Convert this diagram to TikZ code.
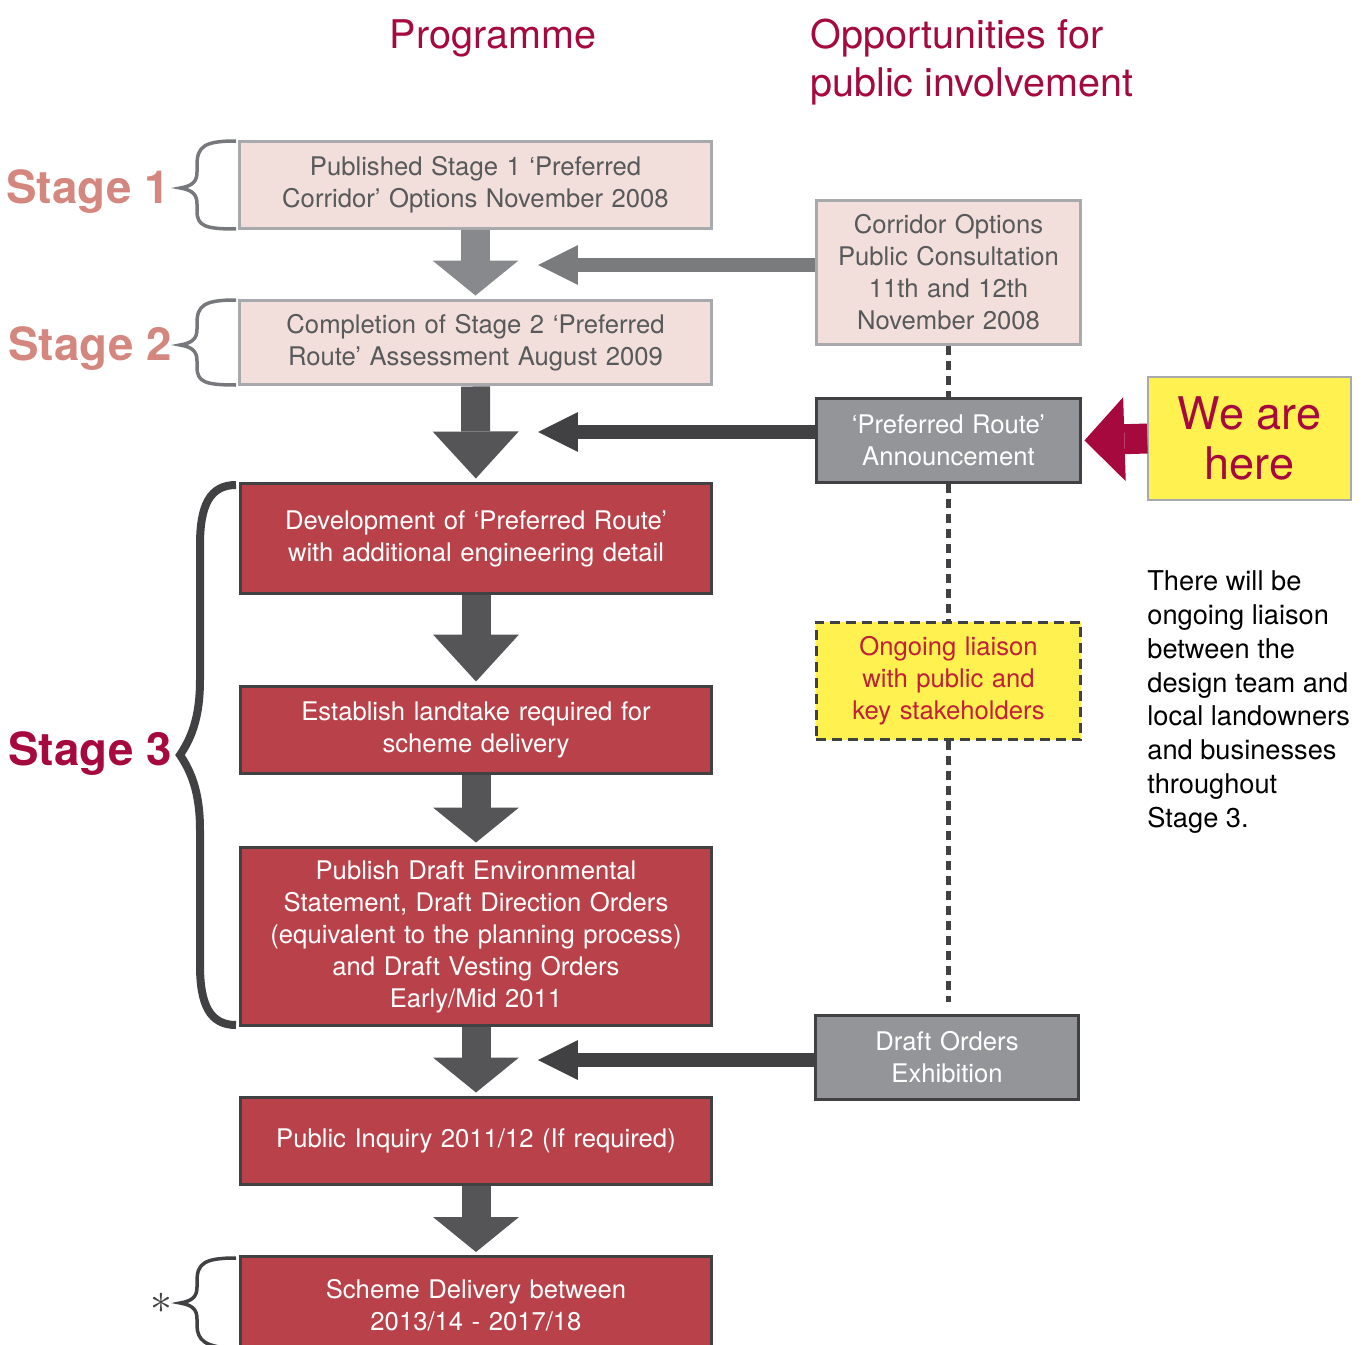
\documentclass[tikz,border=0pt]{standalone}
\usepackage{fontspec}
\setmainfont{TeX Gyre Heros}
\usepackage{tikz}
\usetikzlibrary{positioning,arrows.meta}

\definecolor{titlered}{HTML}{A6093D}
\definecolor{stagepink}{HTML}{D4877F}
\definecolor{pinkfill}{HTML}{F2DFDB}
\definecolor{pinkline}{HTML}{A7A9AC}
\definecolor{textgrey}{HTML}{58595B}
\definecolor{boxred}{HTML}{B9424A}
\definecolor{darkline}{HTML}{414042}
\definecolor{boxgrey}{HTML}{939598}
\definecolor{notice}{HTML}{FFF250}
\definecolor{liaisered}{HTML}{C1203A}
\definecolor{arrowlight}{HTML}{88898C}
\definecolor{arrowside}{HTML}{7A7B7D}
\definecolor{arrowdark}{HTML}{555557}
\definecolor{bracegrey}{HTML}{77787B}

\begin{document}
\begin{tikzpicture}[
    x=0.02cm, y=-0.02cm,
    every node/.style={inner sep=0pt},
    boxfont/.style={font=\fontsize{14.6}{18.2}\selectfont},
    prog/.style={boxfont, align=center, minimum width=9.44cm, text width=9.2cm, line width=0.06cm},
    opp/.style={boxfont, align=center, minimum width=5.3cm, text width=5.1cm, line width=0.06cm},
    pinkbox/.style={draw=pinkline, fill=pinkfill, text=textgrey},
    redbox/.style={draw=darkline, fill=boxred, text=white},
    greybox/.style={draw=darkline, fill=boxgrey, text=white},
    heading/.style={font=\fontsize{22.5}{27.3}\selectfont, text=titlered, yshift=-0.06cm},
    stage/.style={font=\fontsize{26}{30}\selectfont\bfseries, anchor=east, yshift=-0.08cm},
    downarrow/.style={line width=0.58cm, -{Triangle[length=0.7cm,width=1.72cm,line width=0pt]}, shorten >=0.06cm},
    longhead/.style={-{Triangle[length=0.94cm,width=1.72cm,line width=0pt]}},
    sidearrow/.style={line width=0.28cm, -{Triangle[length=0.8cm,width=0.8cm,line width=0pt]}},
    dotline/.style={draw=darkline, line width=0.1cm, dash pattern=on 0.18cm off 0.12cm},
    bracethin/.style={draw=bracegrey, line width=0.07cm},
    bracethick/.style={draw=darkline, line width=0.16cm}
]
\useasboundingbox (0,0) rectangle (1367,1345);
\clip (0,0) rectangle (1367,1345);

% ---------------- Headings ----------------
\node[heading] (prog) at (493,35) {Programme};
\node[heading, align=left, anchor=west] (opps) at (810,59) {Opportunities for\\public involvement};

% ---------------- Programme ----------------
\node[prog, pinkbox, minimum height=1.76cm] (pub) at (475.5,185) {Published Stage 1 ‘Preferred\\Corridor’ Options November 2008};
\node[prog, pinkbox, minimum height=1.7cm] (comp) at (475.5,342.5) {Completion of Stage 2 ‘Preferred\\Route’ Assessment August 2009};
\node[prog, redbox, minimum height=2.22cm] (dev) at (476,538.5) {Development of ‘Preferred Route’\\with additional engineering detail};
\node[prog, redbox, minimum height=1.76cm] (land) at (476,730) {Establish landtake required for\\scheme delivery};
\node[prog, redbox, minimum height=3.58cm] (draft) at (476,936.5) {Publish Draft Environmental\\Statement, Draft Direction Orders\\(equivalent to the planning process)\\and Draft Vesting Orders\\Early/Mid 2011};
\node[prog, redbox, minimum height=1.76cm] (inq) at (476,1141) {Public Inquiry 2011/12 (If required)};
\node[prog, redbox, minimum height=1.94cm] (deliv) at (476,1305) {Scheme Delivery between\\2013/14 - 2017/18};

% ---------------- Public involvement ----------------
\node[opp, pinkbox, minimum height=2.9cm] (cons) at (948.5,272.5) {Corridor Options\\Public Consultation\\11th and 12th\\November 2008};
\node[opp, greybox, minimum height=1.7cm] (ann) at (948.5,440.5) {‘Preferred Route’\\Announcement};
\node[opp, fill=notice, draw=darkline, dash pattern=on 0.2cm off 0.12cm, text=liaisered, minimum height=2.36cm] (liaise) at (948.5,681) {Ongoing liaison\\with public and\\key stakeholders};
\node[opp, greybox, minimum width=5.28cm, minimum height=1.7cm] (exhib) at (947,1057.5) {Draft Orders\\Exhibition};
\node[fill=notice, draw=pinkline, line width=0.03cm, minimum width=4.06cm, minimum height=2.46cm, align=center, text=titlered, font=\fontsize{25.6}{28.5}\selectfont] (here) at (1249.5,438.5) {We are\\here};
\node[font=\fontsize{15.5}{19.2}\selectfont, align=left, anchor=west] (note) at (1147,702) {There will be\\ongoing liaison\\between the\\design team and\\local landowners\\and businesses\\throughout\\Stage 3.};

% ---------------- Stages ----------------
\node[stage, text=stagepink] (s1) at (170,188) {Stage 1};
\node[stage, text=stagepink] (s2) at (172,345) {Stage 2};
\node[stage, text=titlered] (s3) at (172,750) {Stage 3};
\node[font=\fontsize{26}{30}\selectfont, text=darkline] (star) at (161,1303) {$\ast$};

\draw[bracethin] (236,141) .. controls (205,141) and (197,146) .. (197,165) -- (197,172)
  .. controls (197,182) and (192,186) .. (180,188) .. controls (192,190) and (197,194) .. (197,204)
  -- (197,211) .. controls (197,226) and (205,229) .. (236,229);
\draw[bracethin] (236,300) .. controls (205,300) and (197,305) .. (197,323) -- (197,329)
  .. controls (197,339) and (192,343) .. (180,345) .. controls (192,347) and (197,351) .. (197,361)
  -- (197,367) .. controls (197,382) and (205,385) .. (236,385);
\draw[bracethick] (236,485) .. controls (210,485) and (200,505) .. (200,545) -- (200,680)
  .. controls (200,720) and (190,740) .. (180,755) .. controls (190,770) and (200,790) .. (200,830)
  -- (200,965) .. controls (200,1005) and (210,1025) .. (236,1025);
\draw[bracethin, draw=darkline] (236,1258) .. controls (205,1258) and (197,1263) .. (197,1281) -- (197,1287)
  .. controls (197,1297) and (192,1301) .. (180,1303) .. controls (192,1305) and (197,1309) .. (197,1319)
  -- (197,1325) .. controls (197,1340) and (205,1348) .. (236,1348);

% ---------------- Flow ----------------
\draw[downarrow, arrowlight] (pub) -- (comp);
\draw[downarrow, longhead, arrowdark] (comp) -- (dev);
\draw[downarrow, longhead, arrowdark] (dev) -- (land);
\draw[downarrow, arrowdark] (land) -- (draft);
\draw[downarrow, arrowdark] (draft) -- (inq);
\draw[downarrow, arrowdark] (inq) -- (deliv);

\coordinate (t1) at (538,265);
\coordinate (t2) at (538,432);
\coordinate (t3) at (538,1060);
\coordinate (dotend) at (948,1002);
\draw[sidearrow, arrowside] (cons.west |- t1) -- (t1);
\draw[sidearrow, darkline] (ann.west |- t2) -- (t2);
\draw[sidearrow, darkline] (exhib.west |- t3) -- (t3);
\draw[titlered, line width=0.6cm, -{Triangle[length=0.8cm,width=1.68cm,line width=0pt]}, shorten >=0.04cm] (here.west) -- (ann.east);

\draw[dotline] (cons.south) -- (ann.north);
\draw[dotline] (ann.south) -- (liaise.north);
\draw[dotline] (liaise.south) -- (liaise.south |- dotend);

\end{tikzpicture}
\end{document}
